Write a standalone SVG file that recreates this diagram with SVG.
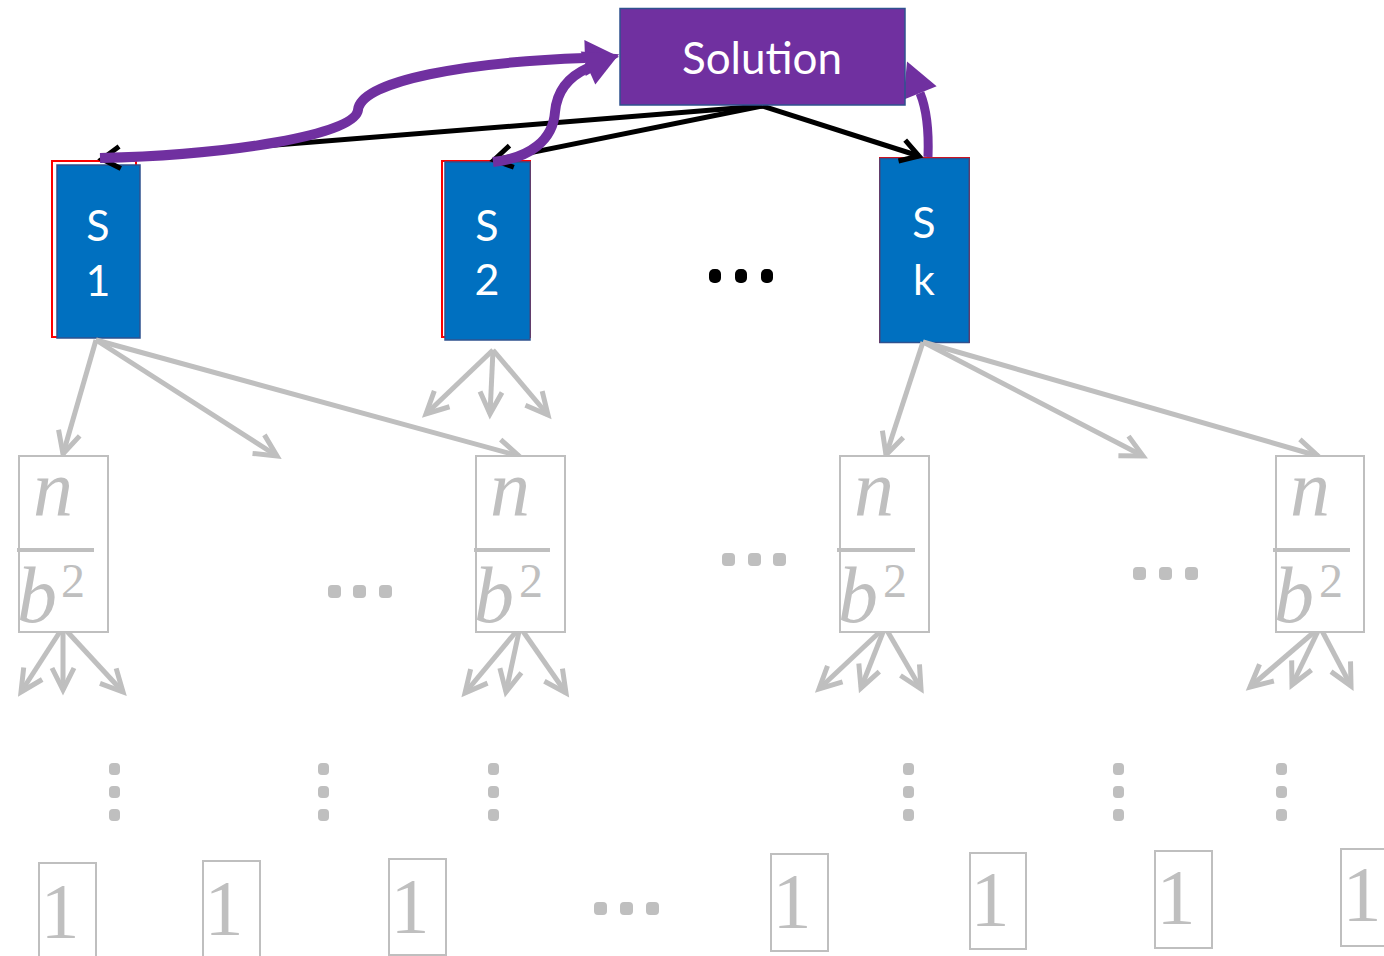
<svg xmlns="http://www.w3.org/2000/svg" width="1384" height="956" viewBox="0 0 1384 956">
  <style>
    .sol { fill: #7030A0; stroke: #2F528F; stroke-width: 1.5; }
    .sub { fill: #0070C0; stroke: #2F528F; stroke-width: 1.5; }
    .red { fill: none; stroke: #FF0000; stroke-width: 2; }
    .lbl { font-family: Lato, "Liberation Sans", sans-serif; fill: #FFFFFF; text-anchor: middle; }
    .blk { stroke: #000000; stroke-width: 5; fill: none; marker-end: url(#chevBlack); }
    .pur { stroke: #7030A0; stroke-width: 10; fill: none; marker-end: url(#headPurple); }
    .pur2 { stroke: #7030A0; stroke-width: 9; fill: none; marker-end: url(#headPurple); }
    .gry { stroke: #BFBFBF; stroke-width: 5; fill: none; marker-end: url(#chevGrey); }
    .gbox { fill: #FFFFFF; stroke: #BFBFBF; stroke-width: 2; }
    .bar { stroke: #BFBFBF; stroke-width: 4; }
    .math { font-family: "Liberation Serif", "DejaVu Serif", serif; fill: #BFBFBF; }
    .it { font-style: italic; font-size: 80px; }
    .sup { font-size: 48px; }
    .one { font-size: 78px; text-anchor: middle; }
    .gdot { fill: #BFBFBF; }
    .bdot { fill: #000000; }
  </style>
  <defs>
    <marker id="chevBlack" markerUnits="userSpaceOnUse" markerWidth="40" markerHeight="40" refX="0" refY="0" orient="auto" overflow="visible">
      <path d="M -18 -11 L 0 0 L -18 11" fill="none" stroke="#000000" stroke-width="5"/>
    </marker>
    <marker id="chevGrey" markerUnits="userSpaceOnUse" markerWidth="40" markerHeight="40" refX="0" refY="0" orient="auto" overflow="visible">
      <path d="M -22 -11 L 0 0 L -22 11" fill="none" stroke="#BFBFBF" stroke-width="5"/>
    </marker>
    <marker id="headPurple" markerUnits="userSpaceOnUse" markerWidth="50" markerHeight="50" refX="0" refY="0" orient="auto" overflow="visible">
      <path d="M 0 -18 L 34 0 L 0 18 Z" fill="#7030A0"/>
    </marker>
  </defs>

  <rect width="1384" height="956" fill="#FFFFFF"/>

  <!-- subproblem nodes -->
  <g id="s1">
    <rect class="red" x="52" y="161" width="84" height="176"/>
    <rect class="sub" x="57" y="165" width="83" height="173"/>
    <text class="lbl" x="98" y="241" font-size="43">S</text>
    <text class="lbl" x="98" y="296" font-size="43">1</text>
  </g>
  <g id="s2">
    <rect class="red" x="442" y="161" width="88" height="176"/>
    <rect class="sub" x="445" y="162" width="85" height="178"/>
    <text class="lbl" x="487" y="241" font-size="43">S</text>
    <text class="lbl" x="487" y="295" font-size="43">2</text>
  </g>
  <g id="sk">
    <rect class="red" x="880" y="158" width="89" height="184" stroke-width="1"/>
    <rect class="sub" x="880" y="158.5" width="89" height="184"/>
    <text class="lbl" x="924" y="238" font-size="43">S</text>
    <text class="lbl" x="924" y="295" font-size="43">k</text>
  </g>

  <!-- connectors -->
  <g id="connectors">
    <path class="blk" d="M 762 106 L 102 159"/>
    <path class="blk" d="M 762 106 L 494 160"/>
    <path class="blk" d="M 762 106 L 919 156"/>

    <path class="pur" d="M 100 158 C 230 155 355 135 358 110 C 361 80 470 62 585 58"/>
    <path class="pur" d="M 493 162 C 530 158 553 140 555 112 C 557 90 570 76 588 68"/>
    <path class="pur2" d="M 928 157 C 929 130 927 110 920 93"/>

    <path class="gry" d="M 96 340 L 63 454"/>
    <path class="gry" d="M 96 340 L 277 456"/>
    <path class="gry" d="M 96 340 L 519 456"/>
    <path class="gry" d="M 493 350 L 426 414"/>
    <path class="gry" d="M 493 350 L 490 414"/>
    <path class="gry" d="M 493 350 L 548 415"/>
    <path class="gry" d="M 923 342 L 886 455"/>
    <path class="gry" d="M 923 342 L 1143 456"/>
    <path class="gry" d="M 923 342 L 1318 456"/>

    <path class="gry" d="M 63 627 L 21 692"/>
    <path class="gry" d="M 63 627 L 63 690"/>
    <path class="gry" d="M 63 627 L 123 692"/>
    <path class="gry" d="M 520 627 L 465 693"/>
    <path class="gry" d="M 520 627 L 506 692"/>
    <path class="gry" d="M 520 627 L 566 693"/>
    <path class="gry" d="M 885 627 L 819 689"/>
    <path class="gry" d="M 885 627 L 861 688"/>
    <path class="gry" d="M 885 627 L 921 689"/>
    <path class="gry" d="M 1320 627 L 1250 687"/>
    <path class="gry" d="M 1320 627 L 1292 685"/>
    <path class="gry" d="M 1320 627 L 1351 686"/>
  </g>

  <!-- root node -->
  <g id="solution">
    <rect class="sol" x="620" y="8.5" width="285" height="96.5"/>
    <text class="lbl" x="762" y="74" font-size="44">Solution</text>
  </g>

  <!-- second level: n / b^2 -->
  <g id="frac1">
    <rect class="gbox" x="19" y="456" width="89" height="176"/>
    <line class="bar" x1="17" y1="550" x2="94" y2="550"/>
    <text class="math it" x="33" y="515">n</text>
    <text class="math it" x="17" y="622">b</text>
    <text class="math sup" x="61" y="597">2</text>
  </g>
  <g id="frac2">
    <rect class="gbox" x="476" y="456" width="89" height="176"/>
    <line class="bar" x1="474" y1="550" x2="550" y2="550"/>
    <text class="math it" x="490" y="515">n</text>
    <text class="math it" x="474" y="622">b</text>
    <text class="math sup" x="519" y="597">2</text>
  </g>
  <g id="frac3">
    <rect class="gbox" x="840" y="456" width="89" height="176"/>
    <line class="bar" x1="837" y1="550" x2="915" y2="550"/>
    <text class="math it" x="854" y="515">n</text>
    <text class="math it" x="838" y="622">b</text>
    <text class="math sup" x="883" y="597">2</text>
  </g>
  <g id="frac4">
    <rect class="gbox" x="1276" y="456" width="88" height="176"/>
    <line class="bar" x1="1273" y1="550" x2="1350" y2="550"/>
    <text class="math it" x="1290" y="515">n</text>
    <text class="math it" x="1274" y="622">b</text>
    <text class="math sup" x="1319" y="597">2</text>
  </g>

  <!-- ellipses -->
  <g id="dots-top">
    <rect class="bdot" x="709" y="269" width="12" height="14" rx="5"/>
    <rect class="bdot" x="735" y="269" width="12" height="14" rx="5"/>
    <rect class="bdot" x="761" y="269" width="12" height="14" rx="5"/>
  </g>
  <g id="dots-mid">
    <rect class="gdot" x="328" y="585" width="13" height="13" rx="4"/>
    <rect class="gdot" x="353" y="585" width="13" height="13" rx="4"/>
    <rect class="gdot" x="379" y="585" width="13" height="13" rx="4"/>
    <rect class="gdot" x="722" y="553" width="13" height="13" rx="4"/>
    <rect class="gdot" x="748" y="553" width="13" height="13" rx="4"/>
    <rect class="gdot" x="773" y="553" width="13" height="13" rx="4"/>
    <rect class="gdot" x="1133" y="567" width="13" height="13" rx="4"/>
    <rect class="gdot" x="1159" y="567" width="13" height="13" rx="4"/>
    <rect class="gdot" x="1185" y="567" width="13" height="13" rx="4"/>
  </g>
  <g id="dots-vertical">
    <rect class="gdot" x="109" y="763" width="11" height="12" rx="4"/>
    <rect class="gdot" x="109" y="786" width="11" height="12" rx="4"/>
    <rect class="gdot" x="109" y="809" width="11" height="12" rx="4"/>
    <rect class="gdot" x="318" y="763" width="11" height="12" rx="4"/>
    <rect class="gdot" x="318" y="786" width="11" height="12" rx="4"/>
    <rect class="gdot" x="318" y="809" width="11" height="12" rx="4"/>
    <rect class="gdot" x="488" y="763" width="11" height="12" rx="4"/>
    <rect class="gdot" x="488" y="786" width="11" height="12" rx="4"/>
    <rect class="gdot" x="488" y="809" width="11" height="12" rx="4"/>
    <rect class="gdot" x="903" y="763" width="11" height="12" rx="4"/>
    <rect class="gdot" x="903" y="786" width="11" height="12" rx="4"/>
    <rect class="gdot" x="903" y="809" width="11" height="12" rx="4"/>
    <rect class="gdot" x="1113" y="763" width="11" height="12" rx="4"/>
    <rect class="gdot" x="1113" y="786" width="11" height="12" rx="4"/>
    <rect class="gdot" x="1113" y="809" width="11" height="12" rx="4"/>
    <rect class="gdot" x="1276" y="763" width="11" height="12" rx="4"/>
    <rect class="gdot" x="1276" y="786" width="11" height="12" rx="4"/>
    <rect class="gdot" x="1276" y="809" width="11" height="12" rx="4"/>
  </g>
  <g id="dots-bottom">
    <rect class="gdot" x="594" y="902" width="13" height="13" rx="4"/>
    <rect class="gdot" x="620" y="902" width="13" height="13" rx="4"/>
    <rect class="gdot" x="646" y="902" width="13" height="13" rx="4"/>
  </g>

  <!-- leaves -->
  <g id="leaf1"><rect class="gbox" x="39" y="863" width="57" height="96"/><text class="math one" x="60" y="937">1</text></g>
  <g id="leaf2"><rect class="gbox" x="203" y="861" width="57" height="96"/><text class="math one" x="224" y="934">1</text></g>
  <g id="leaf3"><rect class="gbox" x="389" y="859" width="57" height="96"/><text class="math one" x="410" y="932">1</text></g>
  <g id="leaf4"><rect class="gbox" x="771" y="854" width="57" height="97"/><text class="math one" x="792" y="927">1</text></g>
  <g id="leaf5"><rect class="gbox" x="970" y="853" width="56" height="96"/><text class="math one" x="990" y="925">1</text></g>
  <g id="leaf6"><rect class="gbox" x="1155" y="851" width="57" height="97"/><text class="math one" x="1176" y="923">1</text></g>
  <g id="leaf7"><rect class="gbox" x="1341" y="849" width="57" height="97"/><text class="math one" x="1362" y="920">1</text></g>
</svg>
